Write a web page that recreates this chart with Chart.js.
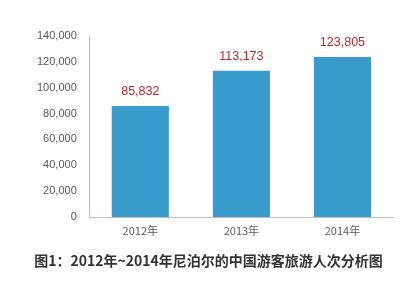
<!DOCTYPE html>
<html><head><meta charset="utf-8">
<script src="https://cdn.jsdelivr.net/npm/chart.js@4/dist/chart.umd.min.js"></script>
<style>html,body{margin:0;padding:0;background:#fff;}#wrap{width:417px;height:281px;}</style>
</head><body><div id="wrap"><canvas id="c" width="417" height="281"></canvas></div>
<script>
const categories = ['2012年', '2013年', '2014年'];
const visitors = [85832, 113173, 123805];
const yTicks = [0, 20000, 40000, 60000, 80000, 100000, 120000, 140000];
const titleText = '图1：2012年~2014年尼泊尔的中国游客旅游人次分析图';

const valueLabels = {
  id: 'valueLabels',
  afterDatasetsDraw(chart) {
    const ctx = chart.ctx;
    const meta = chart.getDatasetMeta(0);
    ctx.save();
    ctx.font = '12.5px "Liberation Sans", "DejaVu Sans", sans-serif';
    ctx.fillStyle = '#c0282d';
    ctx.textAlign = 'center';
    ctx.textBaseline = 'middle';
    meta.data.forEach((bar, i) => {
      ctx.fillText(visitors[i].toLocaleString('en-US'), bar.x, bar.y - 14);
    });
    ctx.restore();
  }
};

new Chart(document.getElementById('c'), {
  type: 'bar',
  data: {
    labels: categories,
    datasets: [{
      data: visitors,
      backgroundColor: '#3a9ccd',
      barPercentage: 0.565,
      categoryPercentage: 1.0
    }]
  },
  options: {
    responsive: false,
    animation: false,
    devicePixelRatio: 1,
    layout: { padding: { left: 24, right: 24, top: 36, bottom: 6 } },
    plugins: {
      legend: { display: false },
      tooltip: { enabled: false },
      title: {
        display: true,
        position: 'bottom',
        text: titleText,
        color: '#333333',
        font: { family: '"Noto Sans CJK SC", sans-serif', size: 14, weight: 'bold' },
        padding: { top: 8, bottom: 6 }
      }
    },
    scales: {
      x: {
        grid: { display: false, drawTicks: false },
        border: { display: true, color: '#bfbfbf', width: 1 },
        ticks: { color: '#595959', font: { family: '"Noto Sans CJK SC", sans-serif', size: 11 }, padding: 7 }
      },
      y: {
        min: 0, max: 140000,
        afterBuildTicks(scale) { scale.ticks = yTicks.map(v => ({ value: v })); },
        grid: { display: false, drawTicks: false },
        border: { display: true, color: '#bfbfbf', width: 1 },
        ticks: {
          color: '#595959',
          font: { family: '"Liberation Sans", sans-serif', size: 11 },
          padding: 13,
          callback: v => v.toLocaleString('en-US')
        }
      }
    }
  },
  plugins: [valueLabels]
});
</script></body></html>
